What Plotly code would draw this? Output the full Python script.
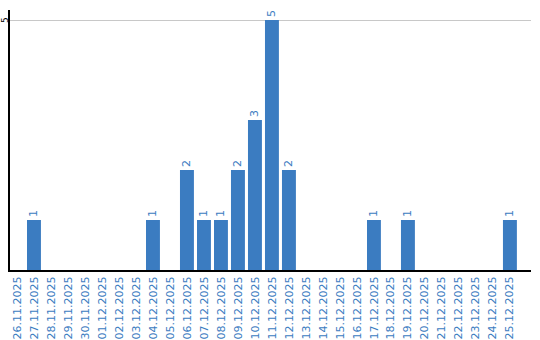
import plotly.graph_objects as go

dates = ["26.11.2025","27.11.2025","28.11.2025","29.11.2025","30.11.2025",
         "01.12.2025","02.12.2025","03.12.2025","04.12.2025","05.12.2025",
         "06.12.2025","07.12.2025","08.12.2025","09.12.2025","10.12.2025",
         "11.12.2025","12.12.2025","13.12.2025","14.12.2025","15.12.2025",
         "16.12.2025","17.12.2025","18.12.2025","19.12.2025","20.12.2025",
         "21.12.2025","22.12.2025","23.12.2025","24.12.2025","25.12.2025"]
counts = [0,1,0,0,0, 0,0,0,1,0, 2,1,1,2,3, 5,2,0,0,0, 0,1,0,1,0, 0,0,0,0,1]
y_ticks = [5]

blue = "#3b7cc1"
labels = [str(v) if v else "" for v in counts]

fig = go.Figure(go.Bar(
    x=dates, y=counts, marker_color=blue, marker_line_width=0,
    text=labels, textposition="outside", textangle=-90, cliponaxis=False,
    textfont=dict(family="DejaVu Sans", size=11, color=blue),
))
for t in y_ticks:
    fig.add_annotation(x=0, xref="paper", xanchor="center", yanchor="middle",
                       xshift=-5, y=t, yref="y",
                       text=str(t), showarrow=False, textangle=-90,
                       font=dict(family="DejaVu Sans", size=9, color="black"))
fig.update_layout(
    width=540, height=340, margin=dict(l=10, r=9, t=10, b=70),
    paper_bgcolor="white", plot_bgcolor="white", showlegend=False,
    bargap=0.18,
    xaxis=dict(type="category", range=[-0.41, 30.24], tickangle=-90,
               showline=True, linecolor="black",
               linewidth=2, showgrid=False, ticks="", automargin=False,
               tickfont=dict(family="DejaVu Sans", size=11, color=blue)),
    yaxis=dict(range=[0, 5.2], tickvals=y_ticks, showticklabels=False, showgrid=True,
               gridcolor="#c8c8c8", gridwidth=1, showline=True, linecolor="black",
               linewidth=2, zeroline=False, automargin=False, ticks=""),
)
fig.write_html("out.html")
